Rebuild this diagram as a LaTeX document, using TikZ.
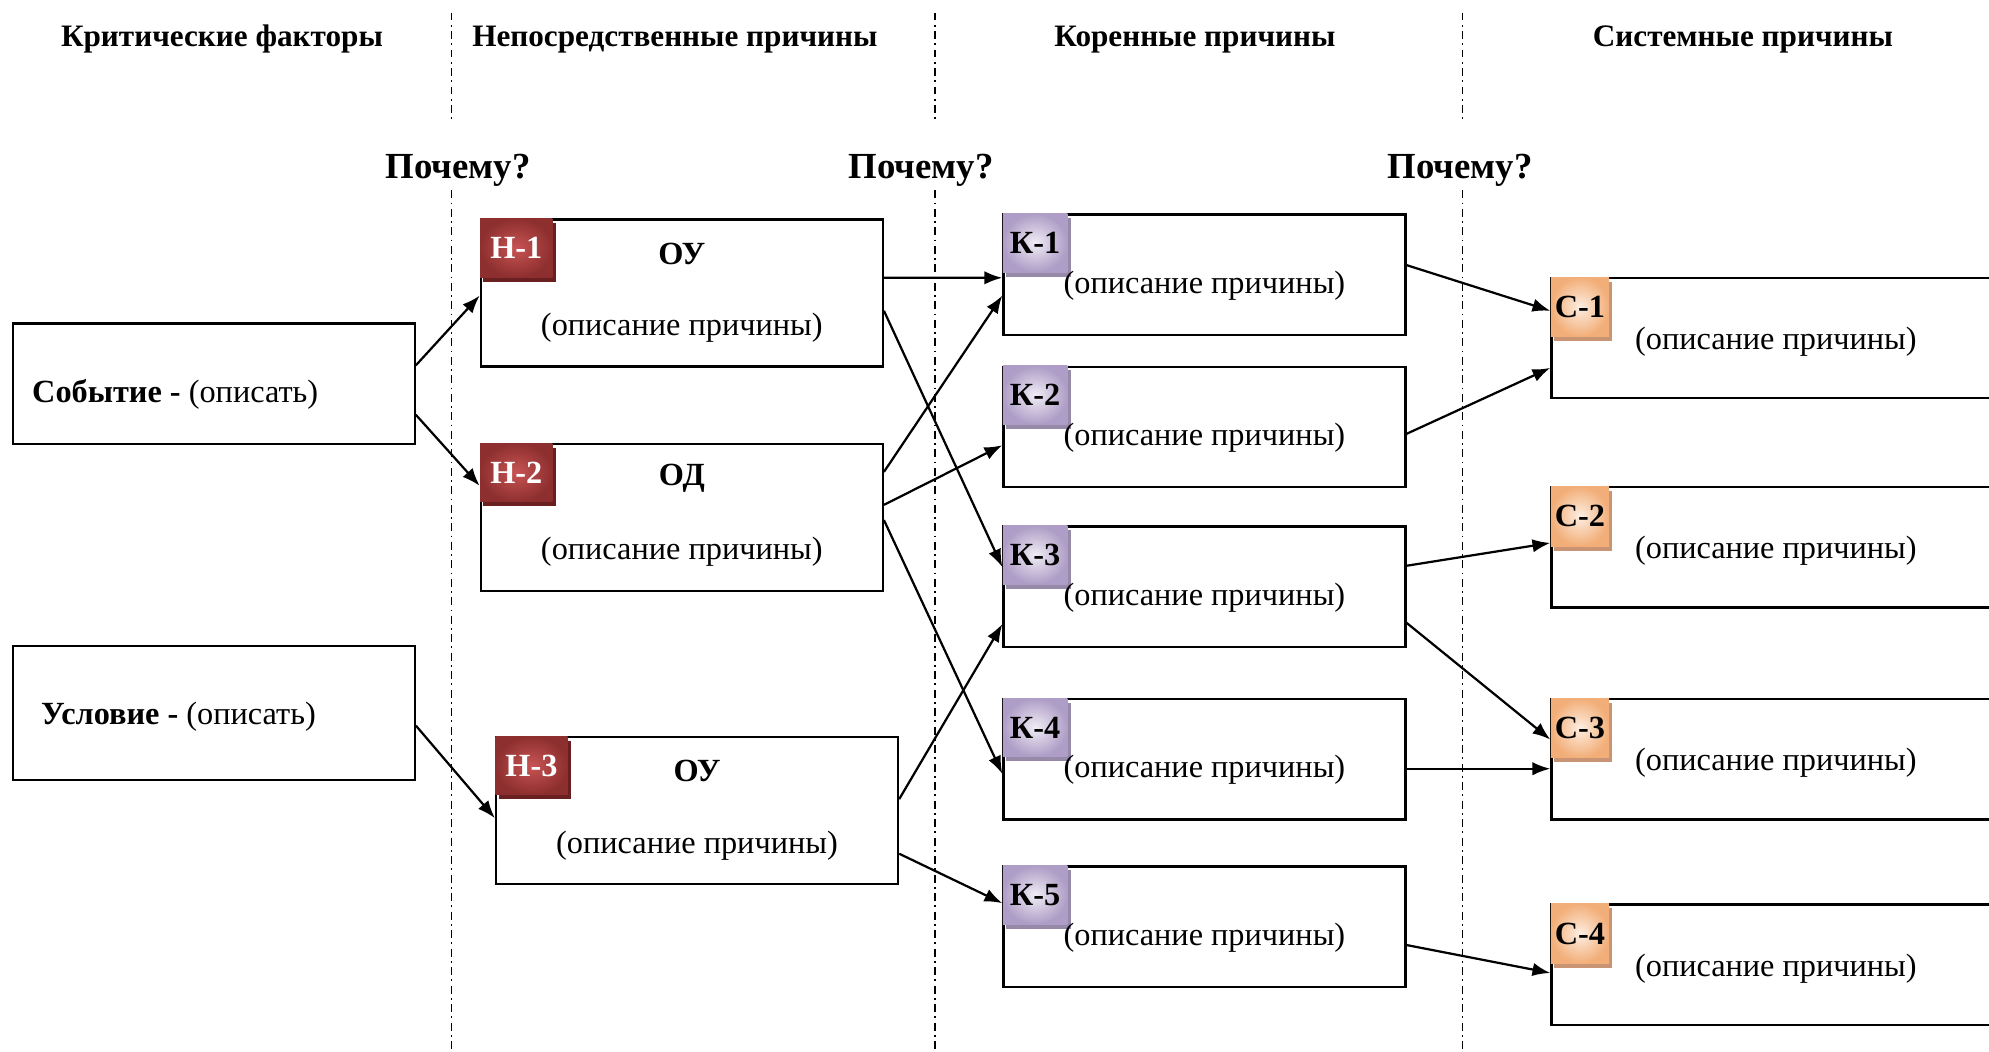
\documentclass[tikz,border=0pt]{standalone}
\usepackage{fontspec}
\setmainfont{Liberation Serif}
\usepackage{tikz}
\usetikzlibrary{arrows.meta,calc,shadows}

\definecolor{hred}{HTML}{8E2F2F}
\definecolor{hredlt}{HTML}{C85454}
\definecolor{hredsh}{HTML}{6A2020}
\definecolor{klil}{HTML}{AE9DC6}
\definecolor{klillt}{HTML}{F0ECF5}
\definecolor{klilsh}{HTML}{978AA8}
\definecolor{corg}{HTML}{F2AE78}
\definecolor{corglt}{HTML}{FDEEE2}
\definecolor{corgsh}{HTML}{C99474}

\tikzset{
  box/.style={draw, line width=1pt, fill=white, minimum width=6.34cm, minimum height=1.9cm, inner sep=0pt},
  badge/.style={anchor=north west, minimum height=0.92cm, inner sep=0pt, font=\fontsize{14.5}{15}\selectfont\bfseries, shading=radial},
  hbadge/.style={badge, minimum width=1.14cm, inner color=hredlt, outer color=hred, text=white, general shadow={fill=hredsh, shadow xshift=1.5pt, shadow yshift=-2pt}},
  kbadge/.style={badge, minimum width=1.02cm, inner color=klillt, outer color=klil, general shadow={fill=klilsh, shadow xshift=1.5pt, shadow yshift=-2pt}},
  cbadge/.style={badge, minimum width=0.92cm, minimum height=0.94cm, inner color=corglt, outer color=corg, general shadow={fill=corgsh, shadow xshift=1.5pt, shadow yshift=-2pt}},
  desc/.style={font=\fontsize{14.5}{17}\selectfont},
  colhead/.style={font=\fontsize{14}{16}\selectfont\bfseries},
  why/.style={font=\fontsize{16.5}{18}\selectfont\bfseries},
  sep/.style={line width=0.8pt, dash pattern=on 3.5pt off 2pt on 0.8pt off 2pt},
  link/.style={line width=1pt, -{Latex[length=8pt,width=6pt]}}
}

\begin{document}
\begin{tikzpicture}[x=0.02cm, y=-0.02cm]
  \useasboundingbox (0,0) rectangle (1568,829);
  \clip (0,0) rectangle (1568,829);

  % column heads
  \node[colhead] (hd1) at (175,31) {Критические факторы};
  \node[colhead] (hd2) at (532,31) {Непосредственные причины};
  \node[colhead] (hd3) at (942,31) {Коренные причины};
  \node[colhead] (hd4) at (1374,31) {Системные причины};
  \node[why] (why1) at (361,134) {Почему?};
  \node[why] (why2) at (726,134) {Почему?};
  \node[why] (why3) at (1151,134) {Почему?};

  \foreach \x in {356,737,1153} {
    \draw[sep] (\x,10) -- (\x,95);
    \draw[sep] (\x,150) -- (\x,829);
  }

  % critical factors
  \node[box] (sob) at (168.5,302.5) {};
  \node[desc, anchor=west] at ($(sob.west)+(10,8.5)$) {\textbf{Событие -} (описать)};
  \node[box, minimum height=2.12cm] (usl) at (168.5,562) {};
  \node[desc, anchor=west] at ($(usl.west)+(17,3)$) {\textbf{Условие -} (описать)};

  % immediate causes
  \node[box, minimum height=2.32cm] (h1) at (537.5,231) {};
  \node[hbadge] at (h1.north west) {Н-1};
  \node[desc, font=\fontsize{14.5}{17}\selectfont\bfseries] at ($(h1)+(0,-31)$) {ОУ};
  \node[desc] at ($(h1)+(0,27)$) {(описание причины)};
  \node[box, minimum height=2.32cm] (h2) at (537.5,408) {};
  \node[hbadge] at (h2.north west) {Н-2};
  \node[desc, font=\fontsize{14.5}{17}\selectfont\bfseries] at ($(h2)+(0,-31)$) {ОД};
  \node[desc] at ($(h2)+(0,27)$) {(описание причины)};
  \node[box, minimum height=2.32cm] (h3) at (549.5,639) {};
  \node[hbadge] at (h3.north west) {Н-3};
  \node[desc, font=\fontsize{14.5}{17}\selectfont\bfseries] at ($(h3)+(0,-31)$) {ОУ};
  \node[desc] at ($(h3)+(0,28)$) {(описание причины)};

  % root causes
  \foreach \i/\y in {1/216.5,2/336.5,3/462.5,4/598.5,5/730.5} {
    \node[box] (k\i) at (949.5,\y) {};
    \node[kbadge] at (k\i.north west) {К-\i};
    \node[desc] at ($(k\i)+(0,8.5)$) {(описание причины)};
  }

  % system causes
  \foreach \i/\y in {1/266.5,2/431.5,3/598.5,4/760.5} {
    \node[box, minimum width=8cm] (c\i) at (1423,\y) {};
    \node[cbadge] at (c\i.north west) {С-\i};
    \node[desc] at ($(c\i)+(-23,3)$) {(описание причины)};
  }

  \draw[link] ($(sob.east)+(0,-14.5)$) -- ($(h1.west)+(0,2)$);
  \draw[link] ($(sob.east)+(0,24.5)$) -- ($(h2.west)+(0,-25)$);
  \draw[link] ($(usl.east)+(0,10)$) -- ($(h3.west)+(0,6)$);
  \draw[link] ($(h1.east)+(0,-12)$) -- ($(k1.west)+(0,2.5)$);
  \draw[link] ($(h1.east)+(0,14)$) -- ($(k3.west)+(0,-15.5)$);
  \draw[link] ($(h2.east)+(0,-36)$) -- ($(k1.west)+(0,16.5)$);
  \draw[link] ($(h2.east)+(0,-10)$) -- ($(k2.west)+(0,14.5)$);
  \draw[link] ($(h2.east)+(0,2)$) -- ($(k4.west)+(0,11.5)$);
  \draw[link] ($(h3.east)+(0,-9)$) -- ($(k3.west)+(0,29.5)$);
  \draw[link] ($(h3.east)+(0,34)$) -- ($(k5.west)+(0,-18.5)$);
  \draw[link] ($(k1.east)+(0,-7.5)$) -- ($(c1.west)+(0,-21.5)$);
  \draw[link] ($(k2.east)+(0,5.5)$) -- ($(c1.west)+(0,23.5)$);
  \draw[link] ($(k3.east)+(0,-16.5)$) -- ($(c2.west)+(0,-3.5)$);
  \draw[link] ($(k3.east)+(0,28.5)$) -- ($(c3.west)+(0,-15.5)$);
  \draw[link] ($(k4.east)+(0,7.5)$) -- ($(c3.west)+(0,7.5)$);
  \draw[link] ($(k5.east)+(0,14.5)$) -- ($(c4.west)+(0,6.5)$);
\end{tikzpicture}
\end{document}
